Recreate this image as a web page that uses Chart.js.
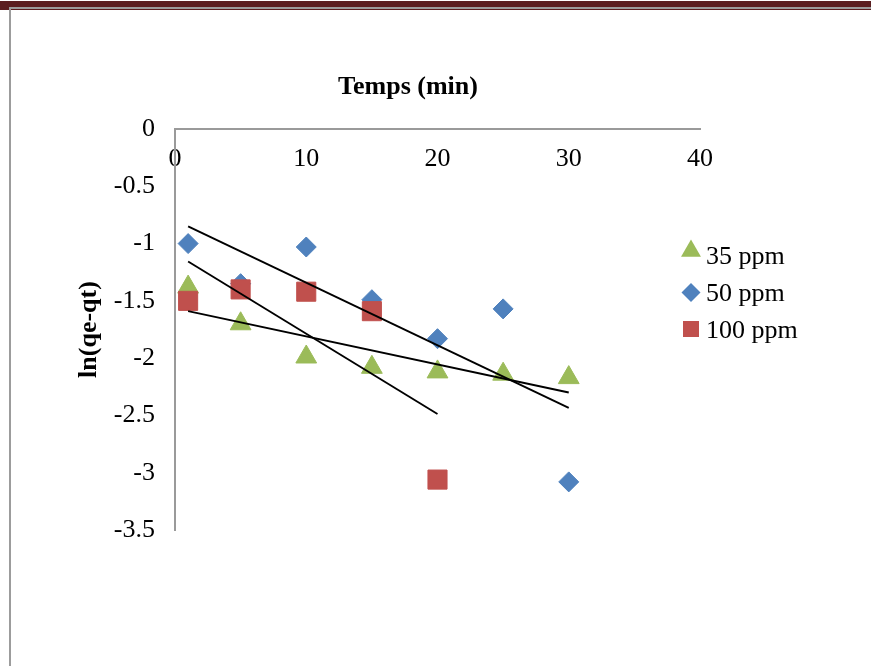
<!DOCTYPE html>
<html>
<head>
<meta charset="utf-8">
<script src="https://cdn.jsdelivr.net/npm/chart.js@4.4.1/dist/chart.umd.min.js"></script>
<style>
  html, body { margin: 0; padding: 0; background: #ffffff; }
  #wrap { position: relative; width: 871px; height: 666px; overflow: hidden; }
  .deco { position: absolute; }
  #c { position: absolute; left: 0; top: 0; }
</style>
</head>
<body>
<div id="wrap">
  <div class="deco" style="left:0;top:1px;width:871px;height:9px;background:#5b1e20;"></div>
  <div class="deco" style="left:9px;top:7px;width:862px;height:2px;background:#9c9c9c;"></div>
  <div class="deco" style="left:9px;top:7px;width:2px;height:659px;background:#9c9c9c;"></div>
  <canvas id="c" width="871" height="666"></canvas>
</div>
<script>
// ---- data ----
const xTitle = 'Temps (min)';
const yTitle = 'ln(qe-qt)';
const seriesNames = ['35 ppm', '50 ppm', '100 ppm'];
const times = [1, 5, 10, 15, 20, 25, 30];
const times100 = [1, 5, 10, 15, 20];
const ppm35 = [-1.38, -1.70, -1.99, -2.08, -2.12, -2.14, -2.17];
const ppm50 = [-1.00, -1.35, -1.03, -1.49, -1.83, -1.57, -3.08];
const ppm100 = [-1.50, -1.40, -1.42, -1.59, -3.06];
// trend line end points (x, y)
const trend35X = [1, 30];
const trend35Y = [-1.59, -2.30];
const trend50X = [1, 30];
const trend50Y = [-0.85, -2.435];
const trend100X = [1, 20];
const trend100Y = [-1.157, -2.487];
const xTicks = [0, 10, 20, 30, 40];
const yTicks = [0, -0.5, -1, -1.5, -2, -2.5, -3, -3.5];

const colors = ['#9bbb59', '#4f81bd', '#c0504d'];
const styles = ['triangle', 'rectRot', 'rect'];
const radii = [12, 10, 13.5];

function pts(xs, ys) { return xs.map((x, i) => ({ x: x, y: ys[i] })); }

const FONT = "'Liberation Serif', 'Times New Roman', serif";
Chart.defaults.font.family = FONT;
Chart.defaults.font.size = 26;
Chart.defaults.color = '#000000';

const lineDs = (xs, ys) => ({
  data: pts(xs, ys), showLine: true, borderColor: '#000000', borderWidth: 1.9,
  pointRadius: 0, pointHoverRadius: 0, fill: false, order: 0
});

const scatterDs = (i, xs, ys, order) => ({
  label: seriesNames[i], data: pts(xs, ys), pointStyle: styles[i],
  pointRadius: radii[i], pointHoverRadius: radii[i],
  backgroundColor: colors[i], borderColor: colors[i], borderWidth: 1,
  showLine: false, order: order
});

const overlay = {
  id: 'overlay',
  afterDraw(chart) {
    const ctx = chart.ctx;
    ctx.save();
    ctx.fillStyle = '#000';
    ctx.font = 'bold 26px ' + FONT;
    ctx.textAlign = 'center';
    ctx.textBaseline = 'alphabetic';
    ctx.fillText(xTitle, 408, 93.5);
    // legend
    const lx = 691, ty = [263.5, 300.5, 337.5];
    const lr = [11.5, 9.5, 11.3];
    const ly = [251, 292.5, 329];
    ctx.font = '26px ' + FONT;
    ctx.textAlign = 'left';
    for (let i = 0; i < seriesNames.length; i++) {
      ctx.fillStyle = colors[i];
      ctx.strokeStyle = colors[i];
      Chart.helpers.drawPoint(ctx, { pointStyle: styles[i], rotation: 0, radius: lr[i], borderWidth: 0 }, lx, ly[i]);
      ctx.fillStyle = '#000';
      ctx.fillText(seriesNames[i], 706, ty[i]);
    }
    ctx.restore();
  }
};

new Chart(document.getElementById('c'), {
  type: 'scatter',
  data: {
    datasets: [
      lineDs(trend50X, trend50Y),
      lineDs(trend100X, trend100Y),
      lineDs(trend35X, trend35Y),
      scatterDs(2, times100, ppm100, 1),
      scatterDs(1, times, ppm50, 2),
      scatterDs(0, times, ppm35, 3)
    ]
  },
  options: {
    responsive: false,
    devicePixelRatio: 1,
    animation: false,
    layout: { padding: { left: 70, right: 171, top: 0, bottom: 136 } },
    plugins: { legend: { display: false }, tooltip: { enabled: false } },
    scales: {
      x: {
        type: 'linear', position: 'top', min: 0, max: 40,
        afterBuildTicks: (s) => { s.ticks = xTicks.map(v => ({ value: v })); },
        ticks: { mirror: true, padding: 15, autoSkip: false, maxRotation: 0, font: { size: 26 },
                 callback: (v) => String(v) },
        grid: { display: false, drawTicks: false },
        border: { display: true, color: '#9a9a9a', width: 2 },
        title: { display: false },
        afterFit: (s) => { s.height = 129; }
      },
      y: {
        type: 'linear', position: 'left', min: -3.5, max: 0,
        afterBuildTicks: (s) => { s.ticks = yTicks.map(v => ({ value: v })); },
        ticks: { padding: 20, autoSkip: false, font: { size: 26 }, callback: (v) => String(v) },
        grid: { display: false, drawTicks: false },
        border: { display: true, color: '#9a9a9a', width: 2 },
        title: { display: true, text: yTitle, font: { size: 26, weight: 'bold' }, padding: { top: 4, bottom: 4 } },
        afterFit: (s) => { s.width = 105; }
      }
    }
  },
  plugins: [overlay]
});
</script>
</body>
</html>
